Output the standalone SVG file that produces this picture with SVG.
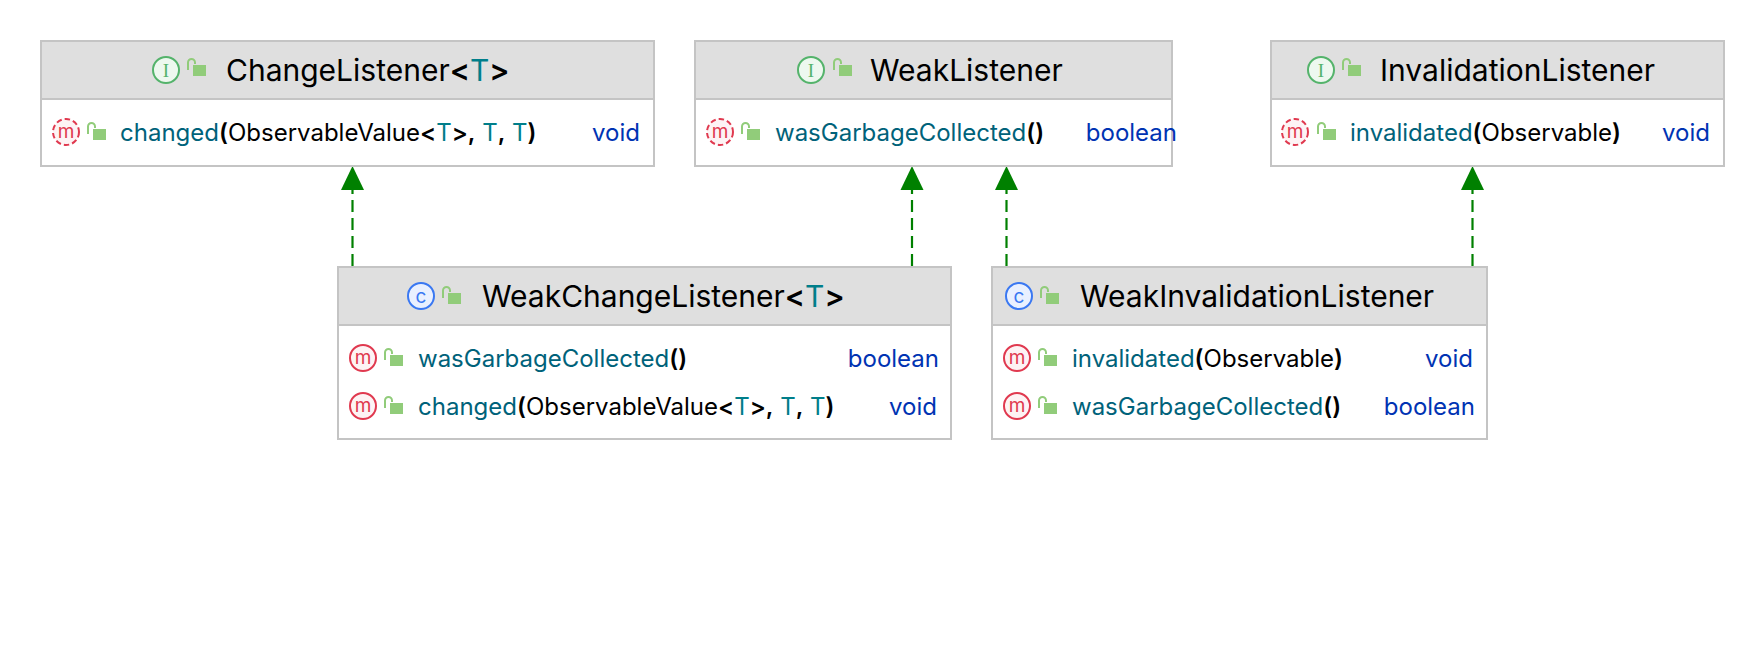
<svg xmlns="http://www.w3.org/2000/svg" width="1764" height="668" viewBox="0 0 1764 668">
<style>
text{font-family:Inter,"Noto Sans",sans-serif;white-space:pre}
.t{font-size:30px;fill:#000}
.m{font-size:24px;fill:#000}
.n{fill:#00627a}
.g{fill:#007e8a}
.r{fill:#0033b3}
.box{fill:#fff;stroke:#c4c4c4;stroke-width:2}
.hd{fill:#dfdfdf}
.dv{stroke:#c4c4c4;stroke-width:2}
.edge{stroke:#008000;stroke-width:2.2;stroke-dasharray:12 6;fill:none}
.ah{fill:#008000}
.im{fill:#fdf3f4;stroke:#e0394f;stroke-width:2}
.imd{fill:#fdf3f4;stroke:#e0394f;stroke-width:2;stroke-dasharray:5.5 3}
.il{fill:#edf8ef;stroke:#54b36b;stroke-width:2}
.ic{fill:#e9f0ff;stroke:#3a78f2;stroke-width:2}
.lt{font-size:19px;text-anchor:middle}
.lk{fill:#91cc7a}
.ls{fill:none;stroke:#91cc7a;stroke-width:2}
</style>
<defs>
<g id="lock"><rect x="-2" y="-2" width="13" height="11" class="lk"/><path d="M-7 0V-4.500A3.500 3.500 0 0 1 0 -4.500V-3" class="ls"/><path d="M-7 0V3" class="ls"/></g>
<g id="mi"><circle r="13" class="im"/><text class="lt" y="6" fill="#e0394f">m</text></g>
<g id="md"><circle r="13" class="imd"/><text class="lt" y="6" fill="#e0394f">m</text></g>
<g id="ii"><circle r="13" class="il"/><text class="lt" y="6.500" fill="#54b36b" style="font-family:'Liberation Serif',serif">I</text></g>
<g id="ci"><circle r="13" class="ic"/><text class="lt" y="6.500" fill="#3a78f2">c</text></g>
</defs>
<rect width="1764" height="668" fill="#fff"/>
<g id="connectors">
<path class="edge" d="M352.500 266V188"/><path class="ah" d="M352.500 166L364 190H341Z"/>
<path class="edge" d="M912 266V188"/><path class="ah" d="M912 166L923.500 190H900.500Z"/>
<path class="edge" d="M1006.500 266V188"/><path class="ah" d="M1006.500 166L1018 190H995Z"/>
<path class="edge" d="M1472.500 266V188"/><path class="ah" d="M1472.500 166L1484 190H1461Z"/>
</g>
<g id="ChangeListener">
<rect class="box" x="41" y="41" width="613" height="125"/><rect class="hd" x="42" y="42" width="611" height="57"/><path class="dv" d="M41 99H654"/>
<use href="#ii" x="166" y="70"/><use href="#lock" x="195" y="67"/>
<text class="t" x="226" y="81">ChangeListener<tspan font-weight="600">&lt;</tspan><tspan class="g">T</tspan><tspan font-weight="600">&gt;</tspan></text>
<use href="#md" x="66" y="132"/><use href="#lock" x="95" y="131"/>
<text class="m" x="120" y="141"><tspan class="n">changed</tspan><tspan font-weight="600">(</tspan>ObservableValue<tspan font-weight="600">&lt;</tspan><tspan class="g">T</tspan><tspan font-weight="600">&gt;,</tspan> <tspan class="g">T</tspan><tspan font-weight="600">,</tspan> <tspan class="g">T</tspan><tspan font-weight="600">)</tspan></text>
<text class="m r" x="640" y="141" text-anchor="end">void</text>
</g>
<g id="WeakListener">
<rect class="box" x="695" y="41" width="477" height="125"/><rect class="hd" x="696" y="42" width="475" height="57"/><path class="dv" d="M695 99H1172"/>
<use href="#ii" x="811" y="70"/><use href="#lock" x="841" y="67"/>
<text class="t" x="870" y="81">WeakListener</text>
<use href="#md" x="720" y="132"/><use href="#lock" x="749" y="131"/>
<text class="m" x="775" y="141"><tspan class="n">wasGarbageCollected</tspan><tspan font-weight="600">()</tspan></text>
<text class="m r" x="1177" y="141" text-anchor="end">boolean</text>
</g>
<g id="InvalidationListener">
<rect class="box" x="1271" y="41" width="453" height="125"/><rect class="hd" x="1272" y="42" width="451" height="57"/><path class="dv" d="M1271 99H1724"/>
<use href="#ii" x="1321" y="70"/><use href="#lock" x="1350" y="67"/>
<text class="t" x="1380" y="81">InvalidationListener</text>
<use href="#md" x="1295" y="132"/><use href="#lock" x="1325" y="131"/>
<text class="m" x="1350" y="141"><tspan class="n">invalidated</tspan><tspan font-weight="600">(</tspan>Observable<tspan font-weight="600">)</tspan></text>
<text class="m r" x="1710" y="141" text-anchor="end">void</text>
</g>
<g id="WeakChangeListener">
<rect class="box" x="338" y="267" width="613" height="172"/><rect class="hd" x="339" y="268" width="611" height="57"/><path class="dv" d="M338 325H951"/>
<use href="#ci" x="421" y="296"/><use href="#lock" x="450" y="295"/>
<text class="t" x="482" y="307">WeakChangeListener<tspan font-weight="600">&lt;</tspan><tspan class="g">T</tspan><tspan font-weight="600">&gt;</tspan></text>
<use href="#mi" x="363" y="358"/><use href="#lock" x="392" y="357"/>
<text class="m" x="418" y="367"><tspan class="n">wasGarbageCollected</tspan><tspan font-weight="600">()</tspan></text>
<text class="m r" x="939" y="367" text-anchor="end">boolean</text>
<use href="#mi" x="363" y="406"/><use href="#lock" x="392" y="405"/>
<text class="m" x="418" y="415"><tspan class="n">changed</tspan><tspan font-weight="600">(</tspan>ObservableValue<tspan font-weight="600">&lt;</tspan><tspan class="g">T</tspan><tspan font-weight="600">&gt;,</tspan> <tspan class="g">T</tspan><tspan font-weight="600">,</tspan> <tspan class="g">T</tspan><tspan font-weight="600">)</tspan></text>
<text class="m r" x="937" y="415" text-anchor="end">void</text>
</g>
<g id="WeakInvalidationListener">
<rect class="box" x="992" y="267" width="495" height="172"/><rect class="hd" x="993" y="268" width="493" height="57"/><path class="dv" d="M992 325H1487"/>
<use href="#ci" x="1019" y="296"/><use href="#lock" x="1048" y="295"/>
<text class="t" x="1080" y="307">WeakInvalidationListener</text>
<use href="#mi" x="1017" y="358"/><use href="#lock" x="1046" y="357"/>
<text class="m" x="1072" y="367"><tspan class="n">invalidated</tspan><tspan font-weight="600">(</tspan>Observable<tspan font-weight="600">)</tspan></text>
<text class="m r" x="1473" y="367" text-anchor="end">void</text>
<use href="#mi" x="1017" y="406"/><use href="#lock" x="1046" y="405"/>
<text class="m" x="1072" y="415"><tspan class="n">wasGarbageCollected</tspan><tspan font-weight="600">()</tspan></text>
<text class="m r" x="1475" y="415" text-anchor="end">boolean</text>
</g>
</svg>
